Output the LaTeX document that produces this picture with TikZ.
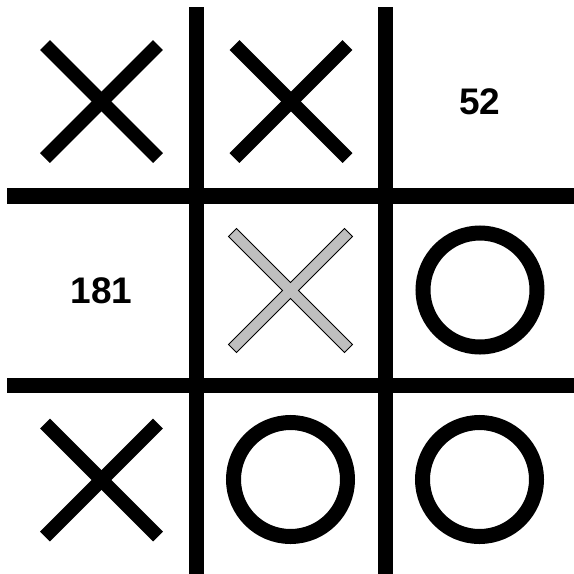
\documentclass[tikz,border=0pt]{standalone}
\usepackage{fontspec}
\setmainfont{Liberation Sans}
\begin{document}
\begin{tikzpicture}[x=1pt,y=-1pt,
  gridline/.style={line width=15.5pt},
  xmark/.style={line width=14pt},
  omark/.style={line width=15pt},
  score/.style={font=\fontsize{37}{40}\selectfont\bfseries, inner sep=0pt}]
\useasboundingbox (0,0) rectangle (574,574);
\fill[white] (0,0) rectangle (574,574);
% cell centres
\coordinate (c11) at (101.5,101.5);
\coordinate (c12) at (291,101.5);
\coordinate (c13) at (480,101.5);
\coordinate (c21) at (101.5,290.5);
\coordinate (c22) at (290.5,290.5);
\coordinate (c23) at (480,290);
\coordinate (c31) at (101.5,480);
\coordinate (c32) at (290.5,479.5);
\coordinate (c33) at (479.5,479.5);
% grid
\coordinate (h1a) at (7,196);   \coordinate (h1b) at (574,196);
\coordinate (h2a) at (7,385.5); \coordinate (h2b) at (574,385.5);
\coordinate (v1a) at (196.5,7); \coordinate (v1b) at (196.5,574);
\coordinate (v2a) at (385.5,7); \coordinate (v2b) at (385.5,574);
\draw[gridline] (h1a) -- (h1b);
\draw[gridline] (h2a) -- (h2b);
\draw[gridline] (v1a) -- (v1b);
\draw[gridline] (v2a) -- (v2b);
% X marks
\foreach \c in {c11,c12,c31}{
  \draw[xmark] ([shift={(-56.5,-56.5)}]\c) -- ([shift={(56.5,56.5)}]\c);
  \draw[xmark] ([shift={(-56.5,56.5)}]\c) -- ([shift={(56.5,-56.5)}]\c);
}
% grey X (outlined union)
\begin{scope}[shift={(c22)}, rotate=45]
  \filldraw[fill=black!25, draw=black, line width=0.9pt, line join=miter]
    (82,-5.6) -- (82,5.6) -- (5.6,5.6) -- (5.6,82) -- (-5.6,82) -- (-5.6,5.6)
    -- (-82,5.6) -- (-82,-5.6) -- (-5.6,-5.6) -- (-5.6,-82) -- (5.6,-82)
    -- (5.6,-5.6) -- cycle;
\end{scope}
% O marks
\foreach \c in {c23,c32,c33}{
  \draw[omark] (\c) circle[radius=57];
}
% scores
\node[score] (s52) at (c13) {52};
\node[score] (s181) at (c21) {181};
\end{tikzpicture}
\end{document}
